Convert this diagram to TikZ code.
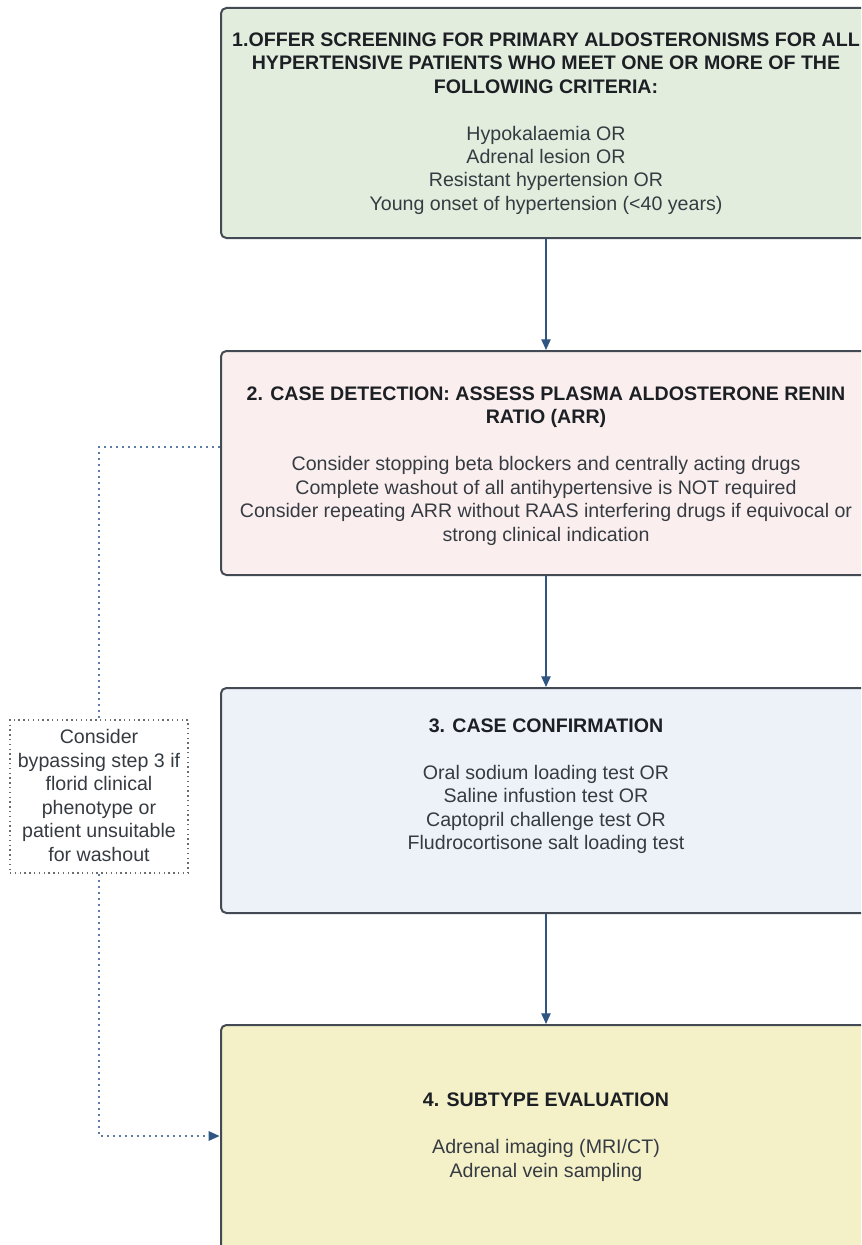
\documentclass[tikz,border=0pt]{standalone}
\usepackage{fontspec}
\setmainfont{Liberation Sans}
\usetikzlibrary{arrows.meta,calc}
\definecolor{boxline}{HTML}{434A54}
\definecolor{fillA}{HTML}{E3EDDE}
\definecolor{fillB}{HTML}{FAEFEE}
\definecolor{fillC}{HTML}{EDF2F8}
\definecolor{fillD}{HTML}{F4F1C9}
\definecolor{arrowblue}{HTML}{2F5583}
\definecolor{dotblue}{HTML}{5E7DA6}
\definecolor{bodytext}{HTML}{363B42}
\definecolor{titletext}{HTML}{1C1F24}
\tikzset{
  stepbox/.style={draw=boxline, line width=1.5pt, rounded corners=4pt, minimum width=487.5pt, inner sep=0pt},
  boxtext/.style={align=center, inner sep=0pt, text=bodytext, font=\fontsize{14.7pt}{17.6pt}\selectfont},
  flowarrow/.style={draw=arrowblue, line width=0.9pt, -{Triangle[length=8pt,width=7pt]}},
  dotconn/.style={draw=dotblue, line width=1.6pt, dash pattern=on 1.4pt off 3.1pt},
  notebox/.style={draw=gray!85!black, line width=1.1pt, dash pattern=on 1.1pt off 2.5pt, minimum width=133.5pt, minimum height=114.75pt, inner sep=0pt}
}
\begin{document}
\begin{tikzpicture}[x=0.75pt,y=-0.75pt]
\useasboundingbox (0,0) rectangle (861,1245);
\clip (0,0) rectangle (861,1245);
% boxes
\node[stepbox, fill=fillA, minimum height=172.5pt] (b1) at (546,123) {};
\node[stepbox, fill=fillB, minimum height=168pt] (b2) at (546,463) {};
\node[stepbox, fill=fillC, minimum height=168.75pt] (b3) at (546,800.5) {};
\node[stepbox, fill=fillD, minimum height=180pt] (b4) at (546,1145) {};
% texts
\node[boxtext] (t1) at (546,123.5) {\textcolor{titletext}{\bfseries 1.OFFER SCREENING FOR PRIMARY ALDOSTERONISMS FOR ALL}\\
\textcolor{titletext}{\bfseries HYPERTENSIVE PATIENTS WHO MEET ONE OR MORE OF THE}\\
\textcolor{titletext}{\bfseries FOLLOWING CRITERIA:}\\[17.6pt]
Hypokalaemia OR\\
Adrenal lesion OR\\
Resistant hypertension OR\\
Young onset of hypertension (<40 years)};
\node[boxtext] (t2) at (546,466) {\textcolor{titletext}{\bfseries 2. CASE DETECTION: ASSESS PLASMA ALDOSTERONE RENIN}\\
\textcolor{titletext}{\bfseries RATIO (ARR)}\\[17.6pt]
Consider stopping beta blockers and centrally acting drugs\\
Complete washout of all antihypertensive is NOT required\\
Consider repeating ARR without RAAS interfering drugs if equivocal or\\
strong clinical indication};
\node[boxtext] (t3) at (546,786) {\textcolor{titletext}{\bfseries 3. CASE CONFIRMATION}\\[17.6pt]
Oral sodium loading test OR\\
Saline infustion test OR\\
Captopril challenge test OR\\
Fludrocortisone salt loading test};
\node[boxtext] (t4) at (546,1137) {\textcolor{titletext}{\bfseries 4. SUBTYPE EVALUATION}\\[17.6pt]
Adrenal imaging (MRI/CT)\\
Adrenal vein sampling};
% note
\node[notebox] (note) at (99,796.5) {};
\node[boxtext] (tn) at (99,795.5) {Consider\\bypassing step 3 if\\florid clinical\\phenotype or\\patient unsuitable\\for washout};
% arrows
\draw[flowarrow] (b1.south) -- (b2.north);
\draw[flowarrow] (b2.south) -- (b3.north);
\draw[flowarrow] (b3.south) -- (b4.north);
% dotted bypass
\draw[dotconn] ($(b2.north west)+(0,97)$) -| (note.north);
\draw[dotconn] (note.south) |- ($(b4.north west)+(-6,112)$);
\draw[draw=none, fill=arrowblue] ($(b4.north west)+(-0.5,112)$) -- ++(-11,-5) -- ++(0,10) -- cycle;
\end{tikzpicture}
\end{document}
